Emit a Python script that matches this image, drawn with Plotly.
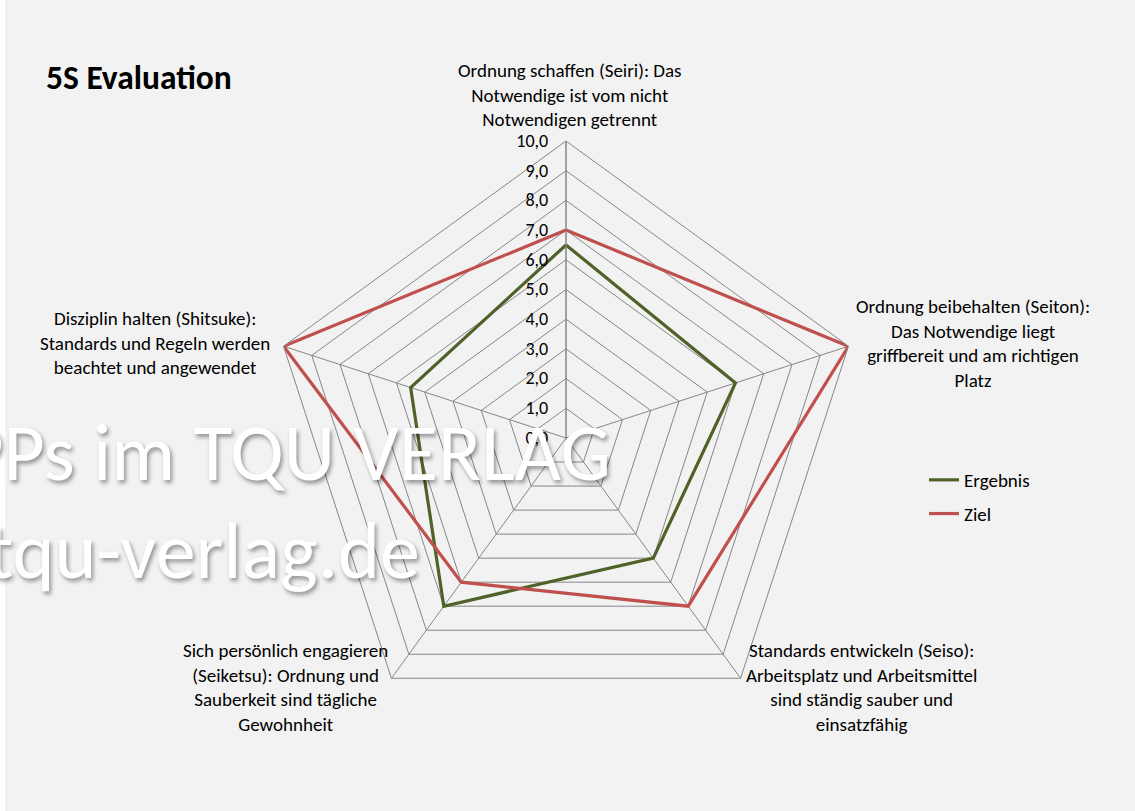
import plotly.graph_objects as go

categories = [
    "Ordnung schaffen (Seiri): Das<br>Notwendige ist vom nicht<br>Notwendigen getrennt",
    "Ordnung beibehalten (Seiton):<br>Das Notwendige liegt<br>griffbereit und am richtigen<br>Platz",
    "Standards entwickeln (Seiso):<br>Arbeitsplatz und Arbeitsmittel<br>sind ständig sauber und<br>einsatzfähig",
    "Sich persönlich engagieren<br>(Seiketsu): Ordnung und<br>Sauberkeit sind tägliche<br>Gewohnheit",
    "Disziplin halten (Shitsuke):<br>Standards und Regeln werden<br>beachtet und angewendet",
]
ergebnis = [6.5, 6.0, 5.0, 7.0, 5.5]
ziel = [7.0, 10.0, 7.0, 6.0, 10.0]

W, H = 1135, 811
FONT = "Carlito, Calibri, Lato, sans-serif"
GRID = "#868686"
LBL = 19

# label placement (pixel centers of each text block), layout only
label_pos = [(570, 95), (973, 343), (861, 687), (285, 687), (155, 343)]

fig = go.Figure()
fig.add_trace(go.Scatterpolar(
    r=ergebnis + ergebnis[:1], theta=categories + categories[:1],
    mode="lines", name="Ergebnis", legendgroup="a",
    line=dict(color="#4f6228", width=3.2)))
fig.add_trace(go.Scatterpolar(
    r=ziel + ziel[:1], theta=categories + categories[:1],
    mode="lines", name="Ziel", legendgroup="b",
    line=dict(color="#c0504d", width=3.2)))

cx, cy, R = 566, 438, 297
fig.update_layout(
    width=W, height=H,
    margin=dict(l=0, r=0, t=0, b=0),
    paper_bgcolor="#f2f2f2", plot_bgcolor="#f2f2f2",
    separators=",.",
    font=dict(family=FONT, size=LBL, color="#000000"),
    polar=dict(
        domain=dict(x=[(cx - R) / W, (cx + R) / W],
                    y=[(H - cy - R) / H, (H - cy + R) / H]),
        bgcolor="rgba(0,0,0,0)",
        gridshape="linear",
        radialaxis=dict(range=[0, 10], dtick=1, tickformat=".1f",
                        angle=90, side="counterclockwise", tickangle=90,
                        showline=True, linecolor=GRID, linewidth=1,
                        gridcolor=GRID, gridwidth=1,
                        ticks="outside", ticklen=11, tickcolor="rgba(0,0,0,0)",
                        tickfont=dict(size=18, family=FONT)),
        angularaxis=dict(type="category", categoryorder="array",
                         categoryarray=categories,
                         direction="clockwise", rotation=90,
                         showticklabels=False, ticks="",
                         showline=True, linecolor=GRID, linewidth=1,
                         gridcolor=GRID, gridwidth=1),
    ),
    legend=dict(x=924 / W, y=(H - 461) / H, xanchor="left", yanchor="top",
                bgcolor="rgba(0,0,0,0)", font=dict(size=LBL, family=FONT),
                tracegroupgap=6, traceorder="grouped"),
    showlegend=True,
)

annotations = []
for (px, py), txt in zip(label_pos, categories):
    annotations.append(dict(x=px / W, y=(H - py) / H, xref="paper", yref="paper",
                            text=txt, showarrow=False, xanchor="center", yanchor="middle",
                            align="center", font=dict(size=LBL, family=FONT, color="#000")))
annotations.append(dict(x=44 / W, y=(H - 77) / H, xref="paper", yref="paper",
                        text="<b>5S Evaluation</b>", showarrow=False,
                        xanchor="left", yanchor="middle",
                        font=dict(size=33.5, family=FONT, color="#000")))
wm_font = dict(size=80, family=FONT, color="#ffffff",
               shadow="2px 3px 4px rgba(0,0,0,0.4)")
annotations.append(dict(x=613 / W, y=(H - 452) / H, xref="paper", yref="paper",
                        text="TIPPs im TQU VERLAG", showarrow=False,
                        xanchor="right", yanchor="middle", font=wm_font))
annotations.append(dict(x=422 / W, y=(H - 550) / H, xref="paper", yref="paper",
                        text="www.tqu-verlag.de", showarrow=False,
                        xanchor="right", yanchor="middle", font=wm_font))
fig.update_layout(annotations=annotations)
fig.add_shape(type="rect", xref="paper", yref="paper", x0=0, x1=5 / W, y0=0, y1=1,
              fillcolor="#ffffff", line=dict(width=0), layer="below")

fig.write_html("out.html", config={"displayModeBar": False},
               post_script="document.body.style.margin='0';")
